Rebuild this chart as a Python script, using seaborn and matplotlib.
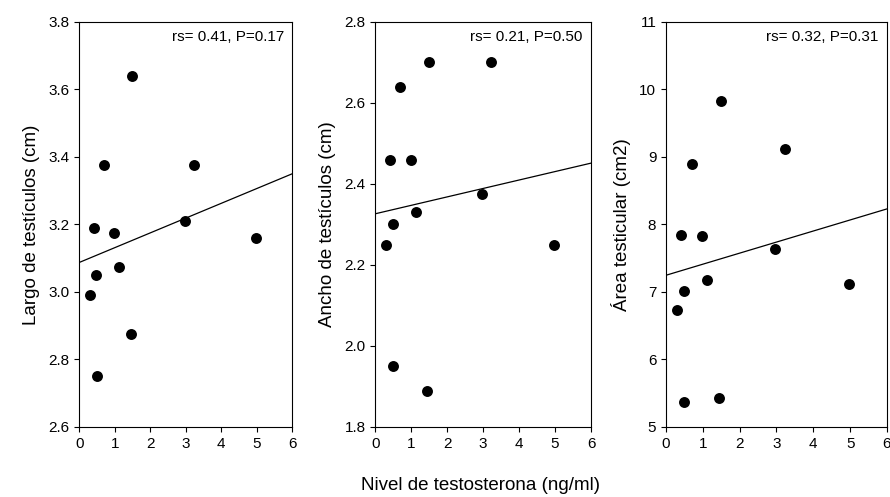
#!/usr/bin/env python3
# Testicle size vs testosterone level (three panels, OLS line + Spearman note)

import matplotlib
matplotlib.use('Agg')
import matplotlib.pyplot as plt
from matplotlib.ticker import MultipleLocator, FormatStrFormatter
import numpy as np
import pandas as pd
import seaborn as sns

################
# Data

testosterona = [0.29, 0.42, 0.48, 0.50, 0.70, 0.99, 1.12, 1.45, 1.49, 2.97, 3.22, 4.98]
largo = [2.99, 3.19, 3.05, 2.75, 3.375, 3.175, 3.075, 2.875, 3.64, 3.21, 3.375, 3.16]
ancho = [2.25, 2.46, 2.30, 1.95, 2.64, 2.46, 2.33, 1.89, 2.70, 2.375, 2.70, 2.25]
area = [6.73, 7.85, 7.02, 5.37, 8.90, 7.83, 7.18, 5.43, 9.83, 7.64, 9.12, 7.12]

columns = ['largo', 'ancho', 'area']
yLabels = ['Largo de testículos (cm)', 'Ancho de testículos (cm)', 'Área testicular (cm2)']
statLabels = ['rs= 0.41, P=0.17', 'rs= 0.21, P=0.50', 'rs= 0.32, P=0.31']
yLimits = [(2.6, 3.8), (1.8, 2.8), (5, 11)]
yTickSteps = [0.2, 0.2, 1]
yTickFormats = ['%.1f', '%.1f', '%d']
xLimits = (0, 6)
xLabel = 'Nivel de testosterona (ng/ml)'

df = pd.DataFrame({'testosterona': testosterona,
                   'largo': largo,
                   'ancho': ancho,
                   'area': area})

################
# Style

sns.set_style('ticks', rc={
  'axes.edgecolor': 'black',
  'axes.linewidth': 0.8,
  'xtick.color': 'black',
  'ytick.color': 'black',
  'text.color': 'black',
  'axes.labelcolor': 'black',
  'xtick.major.size': 4,
  'ytick.major.size': 4,
  'xtick.major.width': 0.8,
  'ytick.major.width': 0.8,
  'xtick.major.pad': 5,
  'ytick.major.pad': 2,
})
plt.rcParams['font.family'] = ['Liberation Sans', 'DejaVu Sans']

fig = plt.figure(figsize=(8.9, 4.97), dpi=100)

# axes boxes, in figure fractions
axBoxes = [[0.0891, 0.1409, 0.2393, 0.8149],
           [0.4217, 0.1409, 0.2424, 0.8149],
           [0.7483, 0.1409, 0.2483, 0.8149]]

for i, col in enumerate(columns):
  ax = fig.add_axes(axBoxes[i])
  ax.set_xlim(*xLimits)
  sns.regplot(data=df, x='testosterona', y=col, ax=ax, ci=None, truncate=False,
              color='black',
              scatter_kws=dict(s=62, alpha=1, edgecolor='black', linewidths=0),
              line_kws=dict(color='black', lw=0.9))
  ax.set_xlim(*xLimits)
  ax.set_ylim(*yLimits[i])
  ax.xaxis.set_major_locator(MultipleLocator(1))
  ax.yaxis.set_major_locator(MultipleLocator(yTickSteps[i]))
  ax.yaxis.set_major_formatter(FormatStrFormatter(yTickFormats[i]))
  ax.tick_params(labelsize=11)
  ax.set_xlabel('')
  ax.set_ylabel(yLabels[i], fontsize=13.5, labelpad=6)
  ax.text(0.962, 0.963, statLabels[i], transform=ax.transAxes,
          ha='right', va='center', fontsize=11)

fig.text(0.54, 0.024, xLabel, ha='center', va='center', fontsize=13.5)

fig.savefig('out.png', dpi=100)
